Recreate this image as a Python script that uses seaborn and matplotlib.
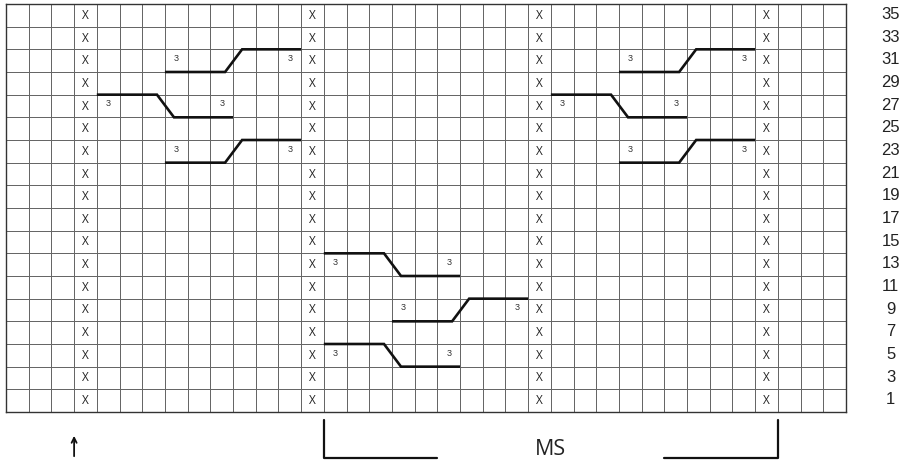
import numpy as np
import matplotlib
matplotlib.use('Agg')
import matplotlib.pyplot as plt
import seaborn as sns
from matplotlib.colors import ListedColormap

# chart data
row_labels = [35, 33, 31, 29, 27, 25, 23, 21, 19, 17, 15, 13, 11, 9, 7, 5, 3, 1]
n_cols = 37
purl_cols = [3, 13, 23, 33]          # columns filled with X
cable_rows = [31, 27, 23, 31, 27, 23, 13, 9, 5]
cable_cols = [7, 4, 7, 27, 24, 27, 14, 17, 14]
cable_dirs = ['up', 'down', 'up', 'up', 'down', 'up', 'down', 'up', 'down']
cable_width = 6
cable_label = '3'
ms_start, ms_end = 14, 34
arrow_col = 3


def row_index(label):
    return row_labels.index(label)


def draw_grid(ax):
    """ Blank heatmap used as the knitting grid, X marks as annotations. """
    n_rows = len(row_labels)
    grid = np.zeros((n_rows, n_cols))
    annot = np.full((n_rows, n_cols), '', dtype=object)
    annot[:, purl_cols] = 'X'
    sns.heatmap(grid, ax=ax, cmap=ListedColormap(['white']), cbar=False,
                linewidths=0.7, linecolor='#666666', annot=annot, fmt='',
                annot_kws={'fontsize': 8.5, 'color': '#222222'},
                xticklabels=False, yticklabels=False)
    for s in ax.spines.values():
        s.set_visible(True)
        s.set_color('#333333')
        s.set_linewidth(1.0)


def draw_cables(ax):
    """ Cable crossings: two horizontal bars joined by a short diagonal. """
    for lab, c0, d in zip(cable_rows, cable_cols, cable_dirs):
        r = row_index(lab)
        top, bot = r, r + 1
        mid = c0 + cable_width / 2
        y_start, y_end = (bot, top) if d == 'up' else (top, bot)
        xs = [c0, mid - 0.35, mid + 0.4, c0 + cable_width]
        ys = [y_start, y_start, y_end, y_end]
        ax.plot(xs, ys, color='#111111', lw=1.9, solid_capstyle='butt',
                solid_joinstyle='miter', zorder=5)
        for c in (c0, c0 + cable_width - 1):
            ax.text(c + 0.5, r + 0.4, cable_label, ha='center', va='center',
                    fontsize=6.5, color='#333333', zorder=6,
                    family=['Liberation Sans'])


def draw_labels(ax):
    n_rows = len(row_labels)
    for i, lab in enumerate(row_labels):
        ax.text(38.97, i + 0.47, str(lab), ha='center', va='center',
                fontsize=12, color='#222222', clip_on=False,
                family=['Liberation Sans'])

    # MS bracket
    y_top, y_bot = n_rows + 0.35, n_rows + 2.05
    ax.plot([ms_start, ms_start, ms_start + 5], [y_top, y_bot, y_bot],
            color='#111111', lw=1.6, clip_on=False)
    ax.plot([ms_end - 5, ms_end, ms_end], [y_bot, y_bot, y_top],
            color='#111111', lw=1.6, clip_on=False)
    ax.text((ms_start + ms_end) / 2, n_rows + 1.65, 'MS', ha='center',
            va='center', fontsize=15.5, color='#222222', clip_on=False)

    # start arrow
    ax.annotate('', xy=(arrow_col, n_rows + 1.05), xytext=(arrow_col, n_rows + 1.95),
                arrowprops=dict(arrowstyle='->', lw=1.3, color='#111111',
                                mutation_scale=9, shrinkA=0, shrinkB=0),
                annotation_clip=False)


def main():
    sns.set_theme(style='white')
    plt.rcParams['font.family'] = ['Open Sans', 'DejaVu Sans']
    fig = plt.figure(figsize=(9.03, 4.63), dpi=100)
    ax = fig.add_axes([6 / 903, 1 - 412 / 463, 840 / 903, 408 / 463])
    draw_grid(ax)
    draw_cables(ax)
    draw_labels(ax)
    fig.savefig('out.png', dpi=100, facecolor='white')


if __name__ == "__main__":
    main()
